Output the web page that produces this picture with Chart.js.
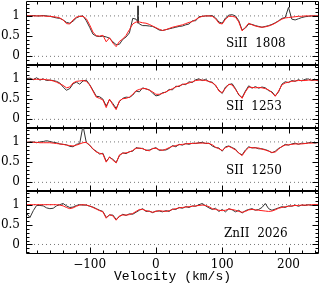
<!DOCTYPE html>
<html><head><meta charset="utf-8">
<script src="https://cdn.jsdelivr.net/npm/chart.js@4.4.1/dist/chart.umd.min.js"></script>
<style>
html,body{margin:0;padding:0;background:#fff;}
#wrap{position:relative;width:322px;height:283px;overflow:hidden;background:#fff;}
canvas{position:absolute;left:0;}
.lbl{position:absolute;left:226px;font-family:"DejaVu Serif";font-size:12px;line-height:12px;color:#000;white-space:pre;}
</style></head>
<body><div id="wrap">
<canvas id="c0" width="322" height="66" style="top:0px;width:322px;height:66px"></canvas>
<canvas id="c1" width="322" height="66" style="top:63px;width:322px;height:66px"></canvas>
<canvas id="c2" width="322" height="66" style="top:126px;width:322px;height:66px"></canvas>
<canvas id="c3" width="322" height="94" style="top:189px;width:322px;height:94px"></canvas>
<div class="lbl" style="top:37px">SiII  1808</div>
<div class="lbl" style="top:100px">SII  1253</div>
<div class="lbl" style="top:164px">SII  1250</div>
<div class="lbl" style="top:227px;left:224px">ZnII  2026</div>
</div>
<script>
const velocity = [
-195,-190,-185,-180,-175,-170,-165,-160,-155,-150,
-145,-140,-135,-130,-125,-120,-115,-110,-105,-100,
-95,-90,-85,-80,-75,-70,-65,-60,-55,-50,
-45,-40,-35,-30,-25,-20,-15,-10,-5,0,
5,10,15,20,25,30,35,40,45,50,
55,60,65,70,75,80,85,90,95,100,
105,110,115,120,125,130,135,140,145,150,
155,160,165,170,175,180,185,190,195,200,
205,210,215,220,225,230,235,240,245];

const panelLabels = ["SiII  1808","SII  1253","SII  1250","ZnII  2026"];

const modelSiII1808 = [
1.00,1.00,1.00,1.00,1.00,1.00,0.99,0.99,0.98,0.97,
0.95,0.90,0.81,0.80,0.90,0.97,0.99,0.99,0.93,0.78,
0.60,0.51,0.50,0.52,0.36,0.46,0.33,0.24,0.37,0.43,
0.52,0.66,0.80,0.85,0.85,0.83,0.82,0.79,0.75,0.71,
0.67,0.64,0.66,0.69,0.72,0.74,0.76,0.78,0.81,0.84,
0.86,0.91,0.96,0.99,1.00,1.00,0.99,0.93,0.82,0.80,
0.92,0.99,0.99,0.97,0.85,0.63,0.72,0.82,0.78,0.75,
0.73,0.72,0.73,0.75,0.78,0.82,0.87,0.92,0.95,0.96,
0.97,0.98,0.99,0.99,1.00,1.00,1.00,1.00,1.00];
const fluxSiII1808 = [
1.01,1.00,1.01,1.00,1.00,1.01,1.00,0.99,0.97,0.95,
0.94,0.90,0.84,0.82,0.87,0.95,0.99,1.00,0.88,0.72,
0.55,0.50,0.49,0.50,0.48,0.45,0.36,0.29,0.30,0.42,
0.48,0.58,0.94,0.92,0.80,0.76,0.76,0.75,0.74,0.70,
0.65,0.64,0.66,0.68,0.70,0.72,0.74,0.75,0.78,0.80,
0.88,0.88,0.98,0.99,1.00,1.00,1.01,0.95,0.85,0.82,
0.95,1.02,1.03,1.00,0.88,0.65,0.70,0.80,0.79,0.76,
0.74,0.72,0.74,0.76,0.79,0.83,0.88,0.94,0.96,1.21,
0.92,0.90,0.93,0.96,0.98,0.99,1.00,1.00,1.00];

const modelSII1253 = [
0.99,0.99,0.99,0.99,0.99,0.99,0.98,0.97,0.95,0.92,
0.88,0.84,0.78,0.80,0.90,0.94,0.95,0.96,0.94,0.85,
0.70,0.55,0.52,0.48,0.29,0.50,0.36,0.24,0.46,0.51,
0.52,0.55,0.62,0.71,0.74,0.76,0.76,0.72,0.68,0.62,
0.62,0.64,0.68,0.72,0.76,0.80,0.83,0.86,0.88,0.90,
0.93,0.96,0.97,0.97,0.96,0.94,0.90,0.85,0.70,0.66,
0.77,0.87,0.85,0.74,0.62,0.52,0.68,0.80,0.79,0.78,
0.79,0.78,0.76,0.73,0.66,0.57,0.70,0.85,0.90,0.92,
0.94,0.95,0.96,0.96,0.96,0.97,0.97,0.97,0.97];
const fluxSII1253 = [
1.01,1.02,0.98,1.03,0.97,1.00,0.96,0.97,0.96,0.94,
0.90,0.80,0.72,0.76,0.88,0.92,0.87,0.95,0.97,0.86,
0.72,0.57,0.56,0.50,0.33,0.49,0.39,0.27,0.44,0.52,
0.55,0.54,0.60,0.70,0.68,0.78,0.75,0.73,0.65,0.58,
0.60,0.66,0.67,0.74,0.73,0.82,0.81,0.87,0.86,0.93,
0.91,0.98,1.00,0.96,0.99,0.93,0.92,0.83,0.72,0.64,
0.80,0.86,0.88,0.76,0.60,0.54,0.70,0.83,0.77,0.81,
0.77,0.80,0.78,0.71,0.68,0.58,0.68,0.87,0.93,0.91,
0.96,0.94,0.98,0.95,0.99,1.00,0.96,0.98,0.95];

const modelSII1250 = [
0.99,0.99,0.99,0.99,0.98,0.98,0.98,0.98,0.97,0.96,
0.95,0.94,0.92,0.91,0.90,0.92,0.95,0.98,0.99,0.92,
0.83,0.75,0.72,0.70,0.50,0.63,0.55,0.48,0.68,0.72,
0.73,0.75,0.79,0.84,0.85,0.83,0.80,0.78,0.84,0.84,
0.81,0.79,0.82,0.86,0.89,0.91,0.93,0.94,0.95,0.96,
0.96,0.97,0.97,0.97,0.97,0.96,0.93,0.87,0.83,0.79,
0.86,0.89,0.85,0.80,0.73,0.66,0.78,0.86,0.86,0.85,
0.85,0.82,0.80,0.77,0.74,0.75,0.82,0.89,0.92,0.93,
0.94,0.95,0.95,0.95,0.96,0.97,0.97,0.98,0.98];
const fluxSII1250 = [
0.99,1.00,1.00,0.98,1.00,1.01,1.03,1.01,0.99,0.98,
0.95,0.94,0.93,0.89,0.88,0.94,0.96,1.40,0.98,0.92,
0.82,0.77,0.70,0.72,0.52,0.62,0.57,0.49,0.66,0.73,
0.71,0.76,0.77,0.86,0.84,0.84,0.79,0.80,0.83,0.86,
0.79,0.80,0.80,0.84,0.91,0.88,0.94,0.92,0.96,0.94,
0.97,0.96,0.98,0.99,0.96,0.97,0.90,0.86,0.85,0.77,
0.88,0.90,0.86,0.82,0.72,0.68,0.80,0.88,0.85,0.86,
0.83,0.83,0.81,0.78,0.73,0.77,0.84,0.88,0.94,0.92,
0.95,0.97,0.94,0.97,0.96,0.98,0.99,0.97,0.99];

const modelZnII2026 = [
1.00,1.00,1.00,1.00,1.00,1.00,1.00,1.00,1.00,1.00,
0.99,0.97,0.93,0.90,0.92,0.96,0.99,1.00,0.99,0.97,
0.93,0.89,0.85,0.82,0.66,0.75,0.72,0.61,0.72,0.74,
0.74,0.75,0.78,0.83,0.88,0.88,0.85,0.83,0.81,0.83,
0.85,0.84,0.83,0.85,0.88,0.90,0.92,0.93,0.94,0.95,
0.96,0.97,0.98,0.99,0.98,0.95,0.90,0.88,0.86,0.85,
0.86,0.89,0.88,0.86,0.83,0.81,0.83,0.87,0.88,0.87,
0.86,0.85,0.84,0.83,0.84,0.87,0.91,0.93,0.95,0.96,
0.97,0.98,0.98,0.99,0.99,0.99,1.00,1.00,1.00];
const fluxZnII2026 = [
0.78,0.68,0.85,0.98,0.98,0.97,0.92,0.90,0.91,0.97,
1.00,1.03,0.97,0.93,0.94,0.98,1.00,0.99,0.99,0.96,
0.94,0.90,0.86,0.83,0.68,0.74,0.74,0.63,0.70,0.76,
0.73,0.77,0.76,0.81,0.86,0.90,0.83,0.84,0.80,0.84,
0.84,0.82,0.85,0.83,0.89,0.88,0.93,0.91,0.95,0.93,
0.97,0.96,1.00,1.03,0.97,0.92,0.88,0.91,0.83,0.88,
0.82,0.90,0.87,0.82,0.86,0.79,0.85,0.88,0.90,0.86,
0.88,0.93,1.03,0.90,0.86,0.89,0.92,0.95,0.93,0.97,
0.96,0.99,0.96,0.99,0.98,1.00,0.98,1.00,0.99];

// marker line in the SiII 1808 panel
const markerVelocity = [-27, -27];
const markerFlux = [1.25, 0.82];

const xLabelTicks = [-100, 0, 100, 200];
const xMinorTicks = [-180,-160,-140,-120,-100,-80,-60,-40,-20,0,20,40,60,80,100,120,140,160,180,200,220,240];
const yLabelTicks = [0, 0.5, 1];
const yMinorTicks = [-0.2,-0.1,0,0.1,0.2,0.3,0.4,0.5,0.6,0.7,0.8,0.9,1,1.1,1.2,1.3];
const refLevels = [0, 1];

const X_MIN = -196, X_MAX = 246, Y_MIN = -0.214, Y_MAX = 1.369;

const frameTicks = {
  id: 'frameTicks',
  afterDatasetsDraw(chart) {
    const {ctx, chartArea: a, scales: {x, y}} = chart;
    const L = Math.round(a.left) + 0.5, R = Math.round(a.right) - 0.5;
    const T = Math.round(a.top) + 0.5, B = Math.round(a.bottom) + 0.5;
    ctx.save();
    ctx.strokeStyle = '#000';
    ctx.lineWidth = 1;
    ctx.beginPath();
    ctx.rect(L, T, R - L, B - T);
    xMinorTicks.forEach(v => {
      const px = Math.round(x.getPixelForValue(v)) + 0.5;
      const len = xLabelTicks.includes(v) ? 6 : 3;
      ctx.moveTo(px, B); ctx.lineTo(px, B - len);
      ctx.moveTo(px, T); ctx.lineTo(px, T + len);
    });
    yMinorTicks.forEach(v => {
      const py = Math.round(y.getPixelForValue(v)) + 0.5;
      const len = yLabelTicks.some(t => Math.abs(t - v) < 1e-6) ? 6 : 3;
      ctx.moveTo(L, py); ctx.lineTo(L + len, py);
      ctx.moveTo(R, py); ctx.lineTo(R - len, py);
    });
    ctx.stroke();
    ctx.restore();
  }
};

function pts(arr) { return velocity.map((v, i) => ({x: v, y: arr[i]})); }

function makePanel(id, model, flux, isLast, extra) {
  const datasets = [
    {data: pts(model), borderColor: '#ff1a1a', borderWidth: 1, pointRadius: 0, tension: 0},
    {data: pts(flux), borderColor: '#333333', borderWidth: 1, pointRadius: 0, tension: 0}
  ];
  refLevels.forEach(r => datasets.push({
    data: [{x: X_MIN, y: r}, {x: X_MAX, y: r}],
    borderColor: '#777', borderWidth: 1, borderDash: [1, 3], pointRadius: 0
  }));
  if (extra) datasets.push(extra);
  new Chart(document.getElementById(id), {
    type: 'line',
    data: {datasets},
    plugins: [frameTicks],
    options: {
      responsive: false, maintainAspectRatio: false, animation: false, devicePixelRatio: 1,
      layout: {padding: {left: 0, right: 3, top: 1, bottom: isLast ? 0 : 1}},
      plugins: {legend: {display: false}, tooltip: {enabled: false}},
      scales: {
        x: {
          type: 'linear', min: X_MIN, max: X_MAX, display: isLast,
          afterFit(s) {
            s.height = isLast ? 30 : 0;
            s.paddingLeft = 0; s.paddingRight = 0; s.paddingTop = 0; s.paddingBottom = 0;
          },
          afterBuildTicks(s) { s.ticks = xLabelTicks.map(v => ({value: v})); },
          grid: {display: false, drawTicks: false},
          border: {display: false},
          ticks: {
            padding: 5, color: '#000', maxRotation: 0, autoSkip: false,
            font: {family: 'DejaVu Serif', size: 12},
            callback: v => v < 0 ? '\u2212' + Math.abs(v) : String(v)
          },
          title: {
            display: true, text: 'Velocity (km/s)', color: '#000',
            font: {family: 'Liberation Mono', size: 13, lineHeight: 1},
            padding: {top: 0, bottom: 0}
          }
        },
        y: {
          min: Y_MIN, max: Y_MAX,
          afterFit(s) {
            s.width = 26;
            s.paddingLeft = 0; s.paddingRight = 0; s.paddingTop = 0; s.paddingBottom = 0;
          },
          afterBuildTicks(s) { s.ticks = yLabelTicks.map(v => ({value: v})); },
          grid: {display: false, drawTicks: false},
          border: {display: false},
          ticks: {
            padding: 6, color: '#000',
            font: {family: 'DejaVu Serif', size: 12},
            callback: v => String(v)
          }
        }
      }
    }
  });
}

makePanel('c0', modelSiII1808, fluxSiII1808, false, {
  data: markerVelocity.map((v, i) => ({x: v, y: markerFlux[i]})),
  borderColor: '#000', borderWidth: 1.5, pointRadius: 0
});
makePanel('c1', modelSII1253, fluxSII1253, false);
makePanel('c2', modelSII1250, fluxSII1250, false);
makePanel('c3', modelZnII2026, fluxZnII2026, true);
</script>
</body></html>
